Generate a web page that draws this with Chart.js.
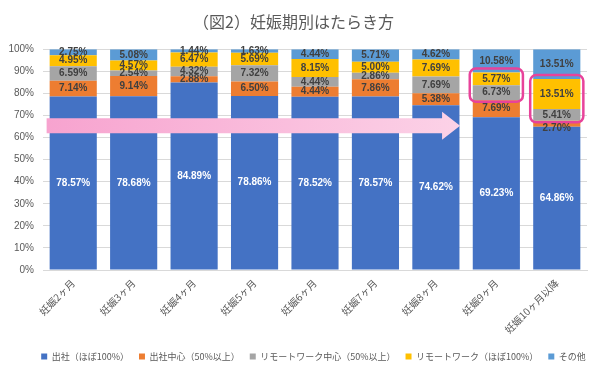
<!DOCTYPE html>
<html>
<head>
<meta charset="utf-8">
<script src="https://cdn.jsdelivr.net/npm/chart.js@4.4.1/dist/chart.umd.min.js"></script>
<style>
html,body{margin:0;padding:0;background:#fff;}
#wrap{width:600px;height:375px;}
</style>
</head>
<body>
<div id="wrap"><canvas id="c" width="600" height="375"></canvas></div>
<script>
const categories = ["妊娠2ヶ月","妊娠3ヶ月","妊娠4ヶ月","妊娠5ヶ月","妊娠6ヶ月","妊娠7ヶ月","妊娠8ヶ月","妊娠9ヶ月","妊娠10ヶ月以降"];
const seriesNames = ["出社（ほぼ100%）","出社中心（50%以上）","リモートワーク中心（50%以上）","リモートワーク（ほぼ100%）","その他"];
const office100 = [78.57,78.68,84.89,78.86,78.52,78.57,74.62,69.23,64.86];
const officeMain = [7.14,9.14,2.88,6.50,4.44,7.86,5.38,7.69,2.70];
const remoteMain = [6.59,2.54,4.32,7.32,4.44,2.86,7.69,6.73,5.41];
const remote100 = [4.95,4.57,6.47,5.69,8.15,5.00,7.69,5.77,13.51];
const others = [2.75,5.08,1.44,1.63,4.44,5.71,4.62,10.58,13.51];
const yTicks = [0,10,20,30,40,50,60,70,80,90,100];
const colors = ["#4472C4","#ED7D31","#A5A5A5","#FFC000","#5B9BD5"];
const highlightCats = [7,8];

const labelFont = 'bold 10px "Liberation Sans", Arial, sans-serif';

const labelPlugin = {
  id:'barLabels',
  afterDatasetsDraw(chart){
    const ctx = chart.ctx;
    ctx.save();
    ctx.font = labelFont;
    ctx.textAlign = 'center';
    ctx.textBaseline = 'middle';
    chart.data.datasets.forEach((ds,di)=>{
      const meta = chart.getDatasetMeta(di);
      meta.data.forEach((el,i)=>{
        const v = ds.data[i];
        let y = (el.y + el.base)/2;
        if (di===1 && i===8) y += 4;
        ctx.fillStyle = di===0 ? '#FFFFFF' : '#404040';
        ctx.fillText(v.toFixed(2)+'%', el.x, y);
      });
    });
    ctx.restore();
  }
};

const legendShift = {
  id:'legendShift',
  afterLayout(chart){
    if (chart.legend){ chart.legend.left += 20; chart.legend.right += 20; }
  }
};

const annotPlugin = {
  id:'annot',
  afterDatasetsDraw(chart){
    const ctx = chart.ctx;
    const xs = chart.scales.x, ys = chart.scales.y;
    const cw = (xs.right - xs.left)/categories.length;
    const x0 = xs.getPixelForTick(0) - cw*0.44;
    const tip = xs.getPixelForTick(6) + cw*0.40;
    const headBase = tip - 18;
    const yc = ys.getPixelForValue(65.3);
    const g = ctx.createLinearGradient(x0,0,tip,0);
    g.addColorStop(0,'#F7A3CF');
    g.addColorStop(1,'#FCD2E7');
    ctx.save();
    ctx.fillStyle = g;
    ctx.beginPath();
    ctx.moveTo(x0, yc-7.5);
    ctx.lineTo(headBase, yc-7.5);
    ctx.lineTo(headBase, yc-14);
    ctx.lineTo(tip, yc);
    ctx.lineTo(headBase, yc+14);
    ctx.lineTo(headBase, yc+7.5);
    ctx.lineTo(x0, yc+7.5);
    ctx.closePath();
    ctx.fill();
    ctx.strokeStyle = '#E8439A';
    ctx.lineWidth = 2.5;
    highlightCats.forEach(i=>{
      const m2 = chart.getDatasetMeta(2).data[i];
      const m3 = chart.getDatasetMeta(3).data[i];
      const left = m2.x - m2.width/2 - 3;
      const right = m2.x + m2.width/2 + 3;
      const top = m3.y - 4;
      const bottom = m2.base + 1.5;
      ctx.beginPath();
      ctx.roundRect(left, top, right-left, bottom-top, 6);
      ctx.stroke();
    });
    ctx.restore();
  }
};

const seriesData = [office100, officeMain, remoteMain, remote100, others];

new Chart(document.getElementById('c'), {
  type:'bar',
  data:{
    labels:categories,
    datasets: seriesData.map((d,i)=>({
      label:seriesNames[i],
      data:d,
      backgroundColor:colors[i],
      borderWidth:0,
      categoryPercentage:1.0,
      barPercentage:0.78
    }))
  },
  options:{
    responsive:false,
    animation:false,
    devicePixelRatio:1,
    layout:{padding:{left:0,right:13,top:0,bottom:4}},
    plugins:{
      title:{
        display:true,
        text:'（図2）妊娠期別はたらき方',
        color:'#595959',
        font:{family:'"Noto Sans CJK JP", sans-serif', size:16, weight:'normal'},
        padding:{top:12,bottom:18}
      },
      legend:{
        position:'bottom',
        labels:{
          color:'#595959',
          font:{family:'"Noto Sans CJK JP", sans-serif', size:9},
          boxWidth:6, boxHeight:6, padding:10
        }
      },
      tooltip:{enabled:false}
    },
    scales:{
      x:{
        stacked:true,
        grid:{display:false, drawTicks:false},
        border:{display:true, color:'#D9D9D9', width:1},
        ticks:{
          color:'#595959',
          font:{family:'"Noto Sans CJK JP", sans-serif', size:10},
          minRotation:45, maxRotation:45, padding:7, autoSkip:false
        },
        afterFit(s){ s.height = 72; }
      },
      y:{
        stacked:true,
        min:0, max:100,
        afterBuildTicks(s){ s.ticks = yTicks.map(v=>({value:v})); },
        grid:{color:'#D9D9D9', drawTicks:false},
        border:{display:false},
        ticks:{
          color:'#595959',
          font:{family:'"Liberation Sans", Arial, sans-serif', size:10},
          padding:9,
          callback:v=>v+'%'
        },
        afterFit(s){ s.width = 43; }
      }
    }
  },
  plugins:[annotPlugin, labelPlugin, legendShift]
});
</script>
</body>
</html>
